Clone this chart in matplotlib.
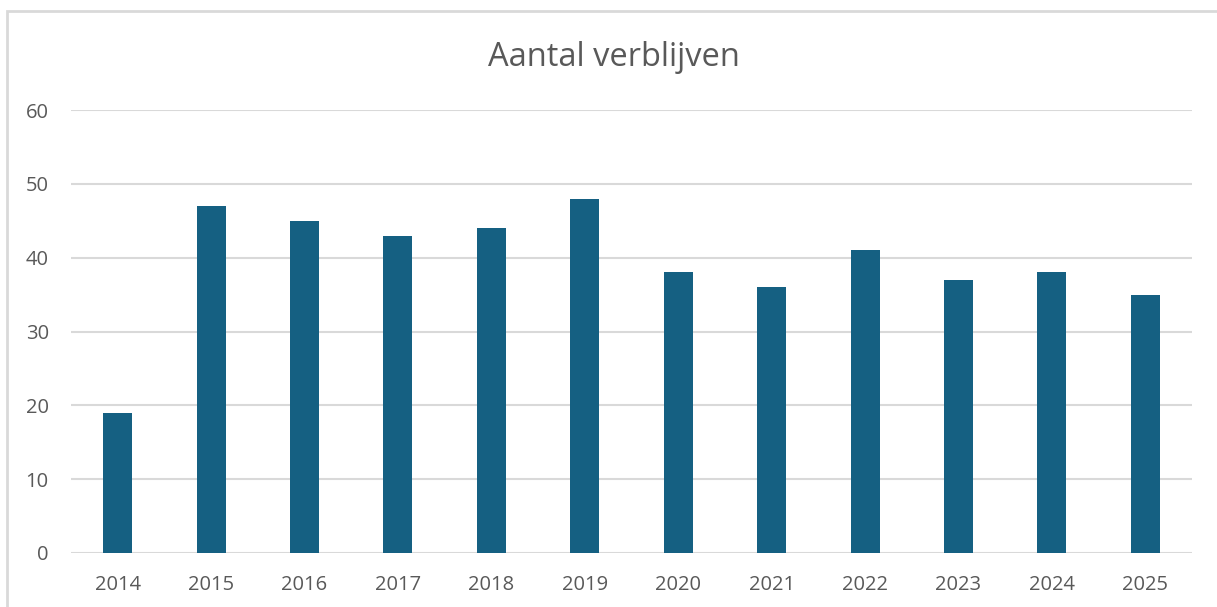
import matplotlib.pyplot as plt
from matplotlib.patches import Rectangle

# data
years = ['2014', '2015', '2016', '2017', '2018', '2019',
         '2020', '2021', '2022', '2023', '2024', '2025']
stays = [19, 47, 45, 43, 44, 48, 38, 36, 41, 37, 38, 35]
y_ticks = [0, 10, 20, 30, 40, 50, 60]

W, H = 1217, 607
plt.rcParams['font.family'] = ['Open Sans', 'DejaVu Sans']
text_color = '#595959'
grid_color = '#D9D9D9'

fig = plt.figure(figsize=(W / 100, H / 100), dpi=100)
ax = fig.add_axes([71 / W, 1 - 553 / H, (1192 - 71) / W, (553 - 110) / H])

# gridlines behind the bars
for t in y_ticks:
    ax.axhline(t, color=grid_color, linewidth=1.5, zorder=0)

x = list(range(len(years)))
ax.bar(x, stays, width=0.31, color='#156082', zorder=2)

ax.set_xlim(-0.5, len(years) - 0.5)
ax.set_ylim(0, 60)
ax.set_xticks(x)
ax.set_xticklabels(years)
ax.set_yticks(y_ticks)
ax.tick_params(axis='both', length=0, labelsize=14.5, labelcolor=text_color)
ax.tick_params(axis='y', pad=16)
ax.tick_params(axis='x', pad=15.5)
for s in ax.spines.values():
    s.set_visible(False)

fig.text(614 / W, 1 - 57 / H, 'Aantal verblijven', ha='center', va='center',
         fontsize=23.5, color=text_color)

# chart frame, cut off at right and bottom like the screenshot
fig.patches.append(Rectangle((7 / W, -0.1), 1.2, 1 - 11 / H + 0.1,
                             transform=fig.transFigure, fill=False,
                             edgecolor=grid_color, linewidth=2))

fig.savefig('out.png', dpi=100)
